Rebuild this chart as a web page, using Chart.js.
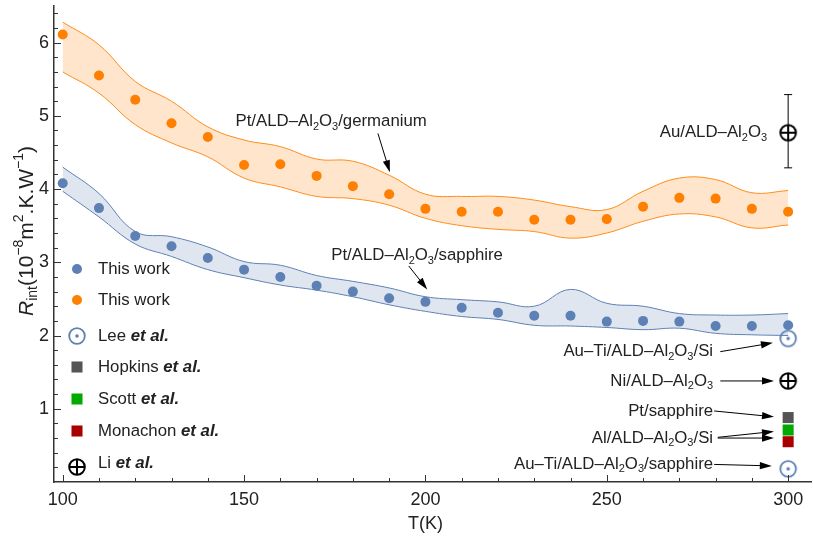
<!DOCTYPE html>
<html>
<head>
<meta charset="utf-8">
<script src="https://cdn.jsdelivr.net/npm/chart.js@4.4.1/dist/chart.umd.min.js"></script>
<style>
  html, body { margin: 0; padding: 0; background: #fff; }
  #wrap { width: 813px; height: 542px; }
</style>
</head>
<body>
<div id="wrap"><canvas id="rintChart"></canvas></div>
<script>
// temperatures (K)
const temps = [100, 110, 120, 130, 140, 150, 160, 170, 180, 190, 200, 210, 220, 230, 240, 250, 260, 270, 280, 290, 300];

// this work, Pt/ALD-Al2O3/sapphire
const sapphireRint = [4.08, 3.74, 3.36, 3.22, 3.06, 2.90, 2.80, 2.68, 2.60, 2.51, 2.46, 2.38, 2.31, 2.27, 2.27, 2.19, 2.20, 2.19, 2.13, 2.13, 2.14];
const sapphireUpper = [4.30, 3.94, 3.42, 3.35, 3.21, 3.01, 2.96, 2.82, 2.74, 2.65, 2.53, 2.49, 2.46, 2.40, 2.63, 2.44, 2.40, 2.30, 2.28, 2.28, 2.30];
const sapphireLower = [3.97, 3.62, 3.25, 3.08, 2.90, 2.79, 2.69, 2.62, 2.53, 2.42, 2.33, 2.26, 2.22, 2.14, 2.13, 2.11, 2.08, 2.10, 2.03, 2.01, 2.00];

// this work, Pt/ALD-Al2O3/germanium
const germaniumRint = [6.11, 5.55, 5.22, 4.90, 4.71, 4.33, 4.34, 4.18, 4.04, 3.93, 3.73, 3.69, 3.69, 3.58, 3.58, 3.59, 3.76, 3.88, 3.87, 3.73, 3.69];
const germaniumUpper = [6.28, 5.97, 5.47, 5.20, 4.85, 4.67, 4.58, 4.41, 4.38, 4.19, 3.93, 3.90, 3.90, 3.85, 3.76, 3.72, 3.97, 4.15, 4.13, 3.95, 3.98];
const germaniumLower = [5.60, 5.31, 4.88, 4.63, 4.44, 4.15, 4.03, 3.90, 3.87, 3.78, 3.60, 3.50, 3.45, 3.42, 3.33, 3.40, 3.56, 3.66, 3.62, 3.47, 3.51];

// literature values at room temperature
const leeT = [300, 300];
const leeRint = [1.96, 0.18];
const hopkinsT = [300];
const hopkinsRint = [0.88];
const scottT = [300];
const scottRint = [0.71];
const monachonT = [300];
const monachonRint = [0.55];
const liT = [300, 300];
const liRint = [4.77, 1.38];
const liErrLow = [4.29, null];
const liErrHigh = [5.29, null];

const xTicks = [100, 150, 200, 250, 300];
const yTicks = [1, 2, 3, 4, 5, 6];

const legendLabels = ['This work', 'This work', 'Lee *et al.*', 'Hopkins *et al.*', 'Scott *et al.*', 'Monachon *et al.*', 'Li *et al.*'];

// annotations: text, anchor (T, Rint), alignment
const noteTexts = ['Pt/ALD–Al_{2}O_{3}/germanium', 'Pt/ALD–Al_{2}O_{3}/sapphire', 'Au/ALD–Al_{2}O_{3}',
  'Au–Ti/ALD–Al_{2}O_{3}/Si', 'Ni/ALD–Al_{2}O_{3}', 'Pt/sapphire', 'Al/ALD–Al_{2}O_{3}/Si', 'Au–Ti/ALD–Al_{2}O_{3}/sapphire'];
const noteT = [174.0, 197.7, 294.2, 279.3, 279.3, 279.3, 279.3, 279.3];
const noteR = [4.92, 3.09, 4.77, 1.78, 1.38, 0.97, 0.60, 0.24];
const noteAlign = ['center', 'center', 'right', 'right', 'right', 'right', 'right', 'right'];
// arrows: [fromT, fromR, toT, toR]
const arrows = [
  [186.9, 4.76, 190.2, 4.23],
  [195.4, 2.95, 200.5, 2.63],
  [281.3, 1.78, 295.8, 1.90],
  [281.3, 1.38, 296.1, 1.38],
  [279.6, 0.97, 296.1, 0.89],
  [280.6, 0.61, 296.1, 0.69],
  [280.6, 0.60, 296.1, 0.60],
  [279.6, 0.24, 295.5, 0.22]
];

const FONT = '"Liberation Sans", Arial, Helvetica, sans-serif';
const blue = '#5e81b5';
const orange = '#ff7f00';

function pts(xs, ys){ return xs.map((x, i) => ({x: x, y: ys[i]})); }

function makeLeeMarker(){
  const c = document.createElement('canvas');
  c.width = 20; c.height = 20;
  const g = c.getContext('2d');
  g.strokeStyle = blue; g.lineWidth = 1.8;
  g.beginPath(); g.arc(10, 10, 7.8, 0, Math.PI * 2); g.stroke();
  g.fillStyle = blue;
  g.beginPath(); g.arc(10, 10, 1.8, 0, Math.PI * 2); g.fill();
  return c;
}
function makeLiMarker(){
  const c = document.createElement('canvas');
  c.width = 20; c.height = 20;
  const g = c.getContext('2d');
  g.strokeStyle = '#000'; g.lineWidth = 2;
  g.beginPath(); g.arc(10, 10, 7.8, 0, Math.PI * 2); g.stroke();
  g.beginPath(); g.moveTo(2.2, 10); g.lineTo(17.8, 10); g.moveTo(10, 2.2); g.lineTo(10, 17.8); g.stroke();
  return c;
}
const leeMarker = makeLeeMarker();
const liMarker = makeLiMarker();

function richParts(str){
  const parts = [];
  let i = 0, italic = false, buf = '';
  const flush = () => { if (buf) { parts.push({t: buf, mode: 'n', italic: italic}); buf = ''; } };
  while (i < str.length) {
    const c = str[i];
    if ((c === '_' || c === '^') && str[i + 1] === '{') {
      flush();
      const end = str.indexOf('}', i);
      parts.push({t: str.slice(i + 2, end), mode: c === '_' ? 'sub' : 'sup', italic: italic});
      i = end + 1; continue;
    }
    if (c === '*') { flush(); italic = !italic; i++; continue; }
    buf += c; i++;
  }
  flush();
  return parts;
}

function drawRich(ctx, str, x, y, size, align, boldItalic){
  const parts = richParts(str);
  const fontFor = p => (p.italic ? (boldItalic ? 'italic bold ' : 'italic ') : '') +
    (p.mode === 'n' ? size : Math.round(size * 0.68)) + 'px ' + FONT;
  let w = 0;
  parts.forEach(p => { ctx.font = fontFor(p); p.w = ctx.measureText(p.t).width; w += p.w; });
  let cx = align === 'right' ? x - w : align === 'center' ? x - w / 2 : x;
  ctx.textAlign = 'left';
  ctx.textBaseline = 'middle';
  parts.forEach(p => {
    ctx.font = fontFor(p);
    const dy = p.mode === 'sub' ? size * 0.3 : p.mode === 'sup' ? -size * 0.38 : 0;
    ctx.fillText(p.t, cx, y + dy);
    cx += p.w;
  });
  return w;
}

function arrow(ctx, x1, y1, x2, y2){
  const a = Math.atan2(y2 - y1, x2 - x1), len = 12, half = 3.6;
  ctx.beginPath();
  ctx.moveTo(x1, y1);
  ctx.lineTo(x2 - Math.cos(a) * len * 0.7, y2 - Math.sin(a) * len * 0.7);
  ctx.stroke();
  ctx.beginPath();
  ctx.moveTo(x2, y2);
  ctx.lineTo(x2 - len * Math.cos(a) + half * Math.sin(a), y2 - len * Math.sin(a) - half * Math.cos(a));
  ctx.lineTo(x2 - len * Math.cos(a) - half * Math.sin(a), y2 - len * Math.sin(a) + half * Math.cos(a));
  ctx.closePath();
  ctx.fill();
}

// inward ticks, mathematica style
const axisTicks = {
  id: 'axisTicks',
  afterDraw(chart){
    const {ctx, chartArea: a, scales: {x, y}} = chart;
    ctx.save();
    ctx.strokeStyle = '#333';
    ctx.lineWidth = 1;
    ctx.beginPath();
    for (let v = 100; v <= 300; v += 10) {
      const px = Math.round(x.getPixelForValue(v)) + 0.5;
      const len = v % 50 === 0 ? 7 : 4;
      ctx.moveTo(px, a.bottom); ctx.lineTo(px, a.bottom - len);
    }
    for (let k = 1; k <= 32; k++) {
      const v = k * 0.2;
      const py = Math.round(y.getPixelForValue(v)) + 0.5;
      const len = k % 5 === 0 ? 7 : 4;
      ctx.moveTo(a.left, py); ctx.lineTo(a.left + len, py);
    }
    ctx.stroke();
    ctx.restore();
  }
};

const notes = {
  id: 'notes',
  afterDatasetsDraw(chart){
    const {ctx, scales: {x, y}} = chart;
    ctx.save();
    ctx.fillStyle = '#222';
    ctx.strokeStyle = '#000';
    ctx.lineWidth = 1;

    // Li error bar
    liT.forEach((t, i) => {
      if (liErrLow[i] == null) return;
      const px = x.getPixelForValue(t);
      const lo = y.getPixelForValue(liErrLow[i]), hi = y.getPixelForValue(liErrHigh[i]);
      const r = y.getPixelForValue(liRint[i]);
      ctx.beginPath();
      ctx.moveTo(px, hi); ctx.lineTo(px, r - 8);
      ctx.moveTo(px, r + 8); ctx.lineTo(px, lo);
      ctx.moveTo(px - 4, hi); ctx.lineTo(px + 4, hi);
      ctx.moveTo(px - 4, lo); ctx.lineTo(px + 4, lo);
      ctx.stroke();
    });

    ctx.fillStyle = '#000';
    arrows.forEach(a => {
      arrow(ctx, x.getPixelForValue(a[0]), y.getPixelForValue(a[1]), x.getPixelForValue(a[2]), y.getPixelForValue(a[3]));
    });

    ctx.fillStyle = '#222';
    noteTexts.forEach((t, i) => {
      drawRich(ctx, t, x.getPixelForValue(noteT[i]), y.getPixelForValue(noteR[i]), 16.8, noteAlign[i]);
    });

    // legend
    const rows = [269, 300, 336, 367, 399, 431, 463];
    chart.data.datasets.filter(d => d.legendIndex != null).forEach(d => {
      const ry = rows[d.legendIndex];
      ctx.fillStyle = d.backgroundColor;
      Chart.helpers.drawPoint(ctx, {pointStyle: d.pointStyle, radius: d.pointRadius, rotation: 0, borderWidth: 0}, 77, ry + (d.legendIndex === 6 ? 4 : 0));
      ctx.fillStyle = '#222';
      drawRich(ctx, legendLabels[d.legendIndex], 98, ry, 16.8, 'left', true);
    });

    // axis titles
    drawRich(ctx, 'T(K)', x.getPixelForValue(200), 524, 18, 'center');
    ctx.translate(27, 231);
    ctx.rotate(-Math.PI / 2);
    drawRich(ctx, '*R*_{int}(10^{−8}m^{2}.K.W^{−1})', 0, 0, 21, 'center');
    ctx.restore();
  }
};

const bandLine = {showLine: true, pointRadius: 0, borderWidth: 1, tension: 0.4, order: 10};

function noPad(s){ s.paddingLeft = 0; s.paddingRight = 0; s.paddingTop = 0; s.paddingBottom = 0; }

const ctx = document.getElementById('rintChart');
new Chart(ctx, {
  type: 'scatter',
  data: {
    datasets: [
      Object.assign({data: pts(temps, germaniumUpper), borderColor: '#ff8c1a', backgroundColor: 'rgba(255,150,50,0.25)', fill: '+1'}, bandLine),
      Object.assign({data: pts(temps, germaniumLower), borderColor: '#ff8c1a', fill: false}, bandLine),
      Object.assign({data: pts(temps, sapphireUpper), borderColor: blue, backgroundColor: 'rgba(94,129,181,0.2)', fill: '+1'}, bandLine),
      Object.assign({data: pts(temps, sapphireLower), borderColor: blue, fill: false}, bandLine),
      {data: pts(temps, sapphireRint), backgroundColor: blue, pointRadius: 5, borderWidth: 0, pointStyle: 'circle', legendIndex: 0, order: 1},
      {data: pts(temps, germaniumRint), backgroundColor: orange, pointRadius: 5, borderWidth: 0, pointStyle: 'circle', legendIndex: 1, order: 1},
      {data: pts(leeT, leeRint), backgroundColor: blue, pointStyle: leeMarker, pointRadius: 8, legendIndex: 2, order: 1},
      {data: pts(hopkinsT, hopkinsRint), backgroundColor: '#555555', pointStyle: 'rect', pointRadius: 7.8, borderWidth: 0, legendIndex: 3, order: 1},
      {data: pts(scottT, scottRint), backgroundColor: '#00aa00', pointStyle: 'rect', pointRadius: 7.8, borderWidth: 0, legendIndex: 4, order: 1},
      {data: pts(monachonT, monachonRint), backgroundColor: '#a80000', pointStyle: 'rect', pointRadius: 7.8, borderWidth: 0, legendIndex: 5, order: 1},
      {data: pts(liT, liRint), backgroundColor: '#000', pointStyle: liMarker, pointRadius: 8, legendIndex: 6, order: 1}
    ]
  },
  options: {
    responsive: true,
    maintainAspectRatio: false,
    animation: false,
    layout: {autoPadding: false, padding: {top: 6, right: 2, left: 0, bottom: 0}},
    plugins: {legend: {display: false}, tooltip: {enabled: false}},
    scales: {
      x: {
        type: 'linear', min: 97.6, max: 306.3,
        grid: {display: false, drawTicks: false},
        border: {display: true, color: '#333', width: 1.5},
        ticks: {font: {size: 18, family: FONT}, color: '#222', padding: 7, maxRotation: 0, autoSkip: false},
        afterBuildTicks: s => { s.ticks = xTicks.map(v => ({value: v})); },
        afterFit: s => { s.height = 60; noPad(s); }
      },
      y: {
        type: 'linear', min: 0, max: 6.5,
        grid: {display: false, drawTicks: false},
        border: {display: true, color: '#333', width: 1.5},
        ticks: {font: {size: 18, family: FONT}, color: '#222', padding: 5, autoSkip: false},
        afterBuildTicks: s => { s.ticks = yTicks.map(v => ({value: v})); },
        afterFit: s => { s.width = 54; noPad(s); }
      }
    }
  },
  plugins: [axisTicks, notes]
});
</script>
</body>
</html>
